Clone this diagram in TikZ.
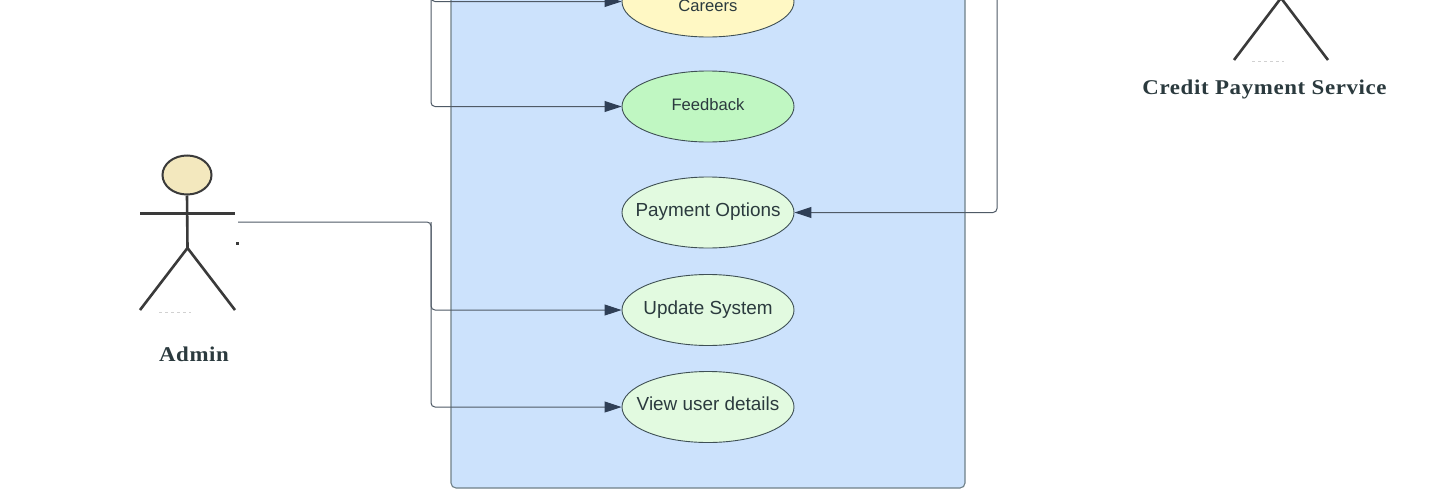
\documentclass[tikz,border=0pt]{standalone}
\usepackage{fontspec}
\setmainfont{Liberation Sans}
\newfontfamily\actorfont{Liberation Serif}[LetterSpace=3,FakeStretch=1.09]
\usetikzlibrary{shapes.geometric,arrows.meta}
\definecolor{sysfill}{HTML}{CCE2FC}
\definecolor{sysline}{HTML}{6F8088}
\definecolor{conline}{HTML}{4F5A66}
\definecolor{tipcol}{HTML}{2F3F56}
\definecolor{ink}{HTML}{2B3A3E}
\definecolor{caseline}{HTML}{3F5055}
\definecolor{actline}{HTML}{3A3A3A}
\definecolor{headfill}{HTML}{F3E8BE}
\definecolor{ycase}{HTML}{FFF8C4}
\definecolor{gcase}{HTML}{C0F7C2}
\definecolor{lcase}{HTML}{E2FAE0}
\tikzset{
  usecase/.style={ellipse,draw=caseline,line width=0.9pt,minimum width=172pt,minimum height=71pt,inner sep=0pt},
  smalltext/.style={text=ink,inner sep=0pt,text height=14pt,text depth=4pt,font=\fontsize{16.6}{18}\selectfont},
  bigtext/.style={text=ink,inner sep=0pt,text height=14pt,text depth=4pt,font=\fontsize{18.9}{20}\selectfont},
  conn/.style={draw=conline,line width=1pt,rounded corners=4pt,-{Triangle[length=17pt,width=11pt,fill=tipcol,color=tipcol]}},
  limb/.style={draw=actline,line width=2.6pt},
  actorname/.style={text=ink,inner sep=0pt,font=\actorfont\bfseries\fontsize{21}{23}\selectfont},
  faint/.style={draw=black!18,line width=0.8pt,dash pattern=on 3pt off 3pt}
}
\begin{document}
\begin{tikzpicture}[x=1pt,y=-1pt]
\useasboundingbox (0,0) rectangle (1437,498);
\clip (0,0) rectangle (1437,498);
\fill[white] (0,0) rectangle (1437,498);
% system boundary
\node[draw=sysline,fill=sysfill,line width=1.1pt,rounded corners=5pt,minimum width=514pt,minimum height=530pt,inner sep=0pt] (sys) at (708,223) {};
% use cases
\node[usecase,fill=ycase,label={[smalltext,yshift=-5pt]center:Careers}] (careers) at (708,1.5) {};
\node[usecase,fill=gcase,label={[smalltext,yshift=1pt]center:Feedback}] (feedback) at (708,106.5) {};
\node[usecase,fill=lcase,label={[bigtext,yshift=1pt]center:Payment Options}] (payment) at (708,212.5) {};
\node[usecase,fill=lcase,label={[bigtext,yshift=1pt]center:Update System}] (update) at (708,310) {};
\node[usecase,fill=lcase,label={[bigtext,yshift=1.5pt]center:View user details}] (view) at (708,407) {};
% Admin actor
\node[ellipse,draw=actline,fill=headfill,line width=2pt,minimum width=49pt,minimum height=39pt,inner sep=0pt] (adminhead) at (187,175) {};
\coordinate (adminhip) at (187.5,248);
\coordinate (adminarml) at (140,213.5);
\coordinate (adminarmr) at (235,213.5);
\coordinate (adminfootl) at (140,310);
\coordinate (adminfootr) at (235,310);
\draw[limb] (adminhead.south) -- (adminhip);
\draw[limb] (adminarml) -- (adminarmr);
\draw[limb] (adminfootl) -- (adminhip) -- (adminfootr);
\draw[faint] (159,312) -- (191,312);
\fill[actline] (235.5,242) rectangle (238.5,244.5);
\node[actorname] (adminname) at (194,354.5) {Admin};
% Credit actor
\coordinate (credhip) at (1281,-2);
\coordinate (credfootl) at (1234,60);
\coordinate (credfootr) at (1328,60);
\draw[limb] (credfootl) -- (credhip) -- (credfootr);
\draw[faint] (1252,61.5) -- (1284,61.5);
\node[actorname] (credname) at (1264.5,89.5) {Credit Payment Service};
% connectors
\coordinate (adminout) at (238,222);
\coordinate (trunk) at (431,222);
\coordinate (topleft) at (431,-8);
\coordinate (topright) at (997,-8);
\draw[conn] (adminout) -- (trunk) |- (update.west);
\draw[conn] (trunk) |- (view.west);
\draw[conn] (topleft) |- (careers.west);
\draw[conn] (topleft) |- (feedback.west);
\draw[conn] (topright) |- (payment.east);
\end{tikzpicture}
\end{document}
